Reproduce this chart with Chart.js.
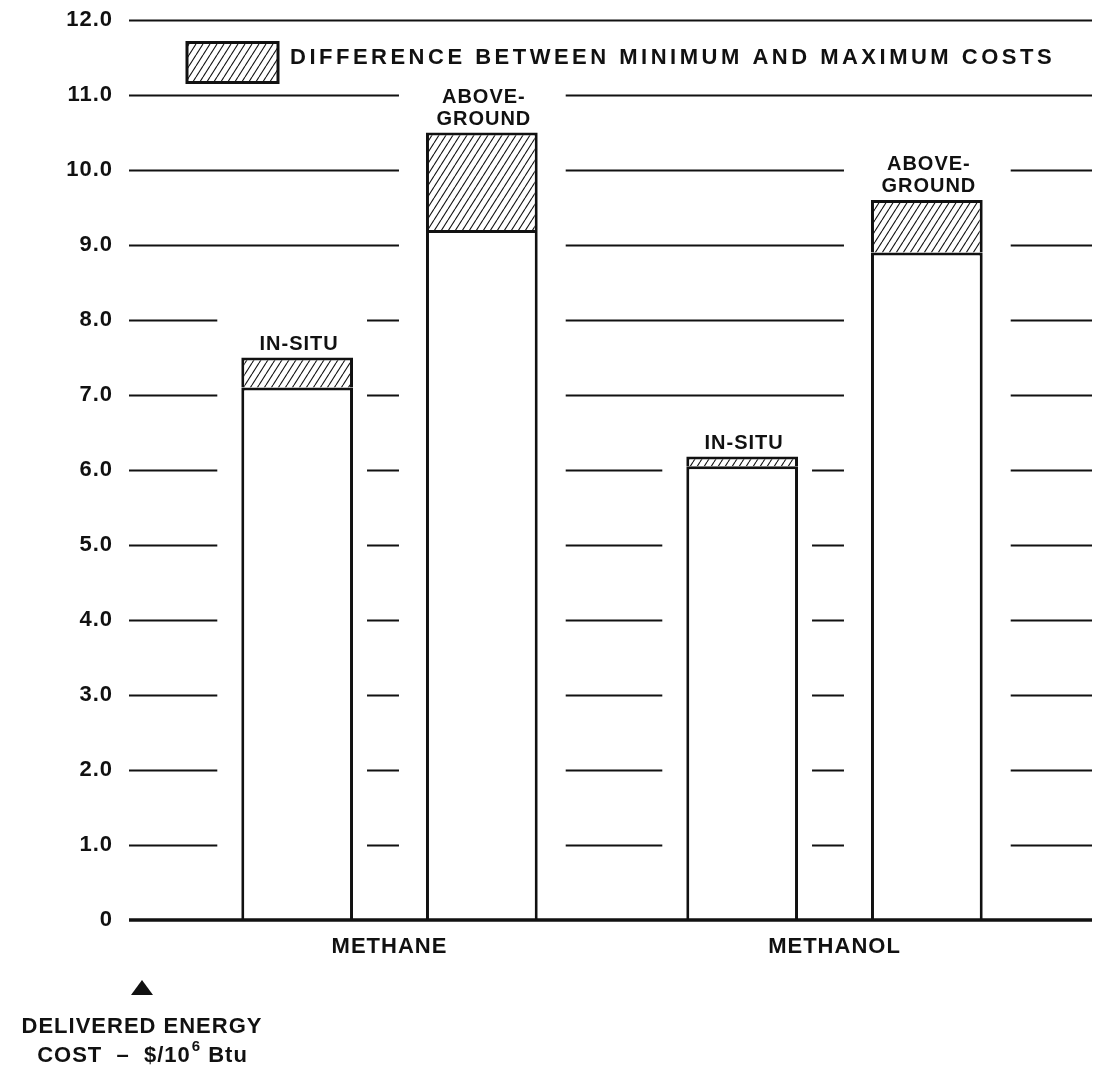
<!DOCTYPE html>
<html>
<head>
<meta charset="utf-8">
<script src="https://cdn.jsdelivr.net/npm/chart.js@4.4.1/dist/chart.umd.min.js"></script>
<style>
  html, body { margin: 0; padding: 0; background: #fff; }
  #wrap { width: 1094px; height: 1085px; }
</style>
</head>
<body>
<div id="wrap"><canvas id="costChart"></canvas></div>
<script>
// Delivered energy cost, $/10^6 Btu
var categories = ['METHANE', 'METHANOL'];
var inSituMin = [7.1, 6.05];
var inSituMax = [7.5, 6.18];
var aboveGroundMin = [9.2, 8.9];
var aboveGroundMax = [10.5, 9.6];
var yTickLabels = ['0', '1.0', '2.0', '3.0', '4.0', '5.0', '6.0', '7.0', '8.0', '9.0', '10.0', '11.0', '12.0'];
var inSituLabel = ['IN-SITU'];
var aboveGroundLabel = ['ABOVE-', 'GROUND'];
var legendText = 'DIFFERENCE BETWEEN MINIMUM AND MAXIMUM COSTS';
var axisNote = ['DELIVERED ENERGY', 'COST  \u2013  $/10', '6', ' Btu'];

var FONT = '"Liberation Sans", Arial, Helvetica, sans-serif';
Chart.defaults.font.family = FONT;
Chart.defaults.font.weight = 'bold';
Chart.defaults.color = '#111';

// diagonal hatch used for the min-max difference
function makeHatch() {
    var c = document.createElement('canvas');
    var w = 7, h = 11;
    c.width = w; c.height = h;
    var g = c.getContext('2d');
    g.fillStyle = '#fff';
    g.fillRect(0, 0, w, h);
    g.strokeStyle = '#111';
    g.lineWidth = 1.1;
    [-w, 0, w].forEach(function (dx) {
        g.beginPath();
        g.moveTo(dx, h);
        g.lineTo(dx + w, 0);
        g.stroke();
    });
    return g.createPattern(c, 'repeat');
}
var hatch = makeHatch();

function diff(maxArr, minArr) {
    return maxArr.map(function (v, i) { return +(v - minArr[i]).toFixed(2); });
}

// grid lines broken around the bars, baseline, labels, legend, axis note
var paperPlugin = {
    id: 'paper',
    beforeDraw: function (chart) {
        chart.ctx.letterSpacing = '1px';
    },
    beforeDatasetsDraw: function (chart) {
        var ctx = chart.ctx, y = chart.scales.y, area = chart.chartArea;
        var left = area.left - 38, right = area.right + 35;
        ctx.save();
        ctx.strokeStyle = '#111';
        ctx.lineWidth = 2;
        for (var v = 1; v <= 12; v++) {
            var py = Math.round(y.getPixelForValue(v)) + 0.5;
            ctx.beginPath();
            ctx.moveTo(left, py);
            ctx.lineTo(right, py);
            ctx.stroke();
        }
        // white gaps around each bar and its label
        ctx.fillStyle = '#fff';
        chart.data.datasets.forEach(function (ds, di) {
            if (!ds.topLabel) return;
            chart.getDatasetMeta(di).data.forEach(function (bar) {
                var top = bar.y - 7 - ds.topLabel.length * 22 - 20;
                ctx.fillRect(bar.x - bar.width / 2 - ds.halo[0], top,
                    bar.width + ds.halo[0] + ds.halo[1], y.bottom - top);
            });
        });
        ctx.restore();
    },
    afterDatasetsDraw: function (chart) {
        var ctx = chart.ctx, y = chart.scales.y, area = chart.chartArea;
        ctx.save();
        // baseline
        ctx.strokeStyle = '#111';
        ctx.lineWidth = 3.5;
        ctx.beginPath();
        ctx.moveTo(area.left - 38, y.getPixelForValue(0));
        ctx.lineTo(area.right + 35, y.getPixelForValue(0));
        ctx.stroke();
        // labels above bars
        ctx.fillStyle = '#111';
        ctx.font = 'bold 20px ' + FONT;
        ctx.textAlign = 'center';
        ctx.textBaseline = 'alphabetic';
        chart.data.datasets.forEach(function (ds, di) {
            if (!ds.topLabel) return;
            chart.getDatasetMeta(di).data.forEach(function (bar) {
                var n = ds.topLabel.length;
                ds.topLabel.forEach(function (line, li) {
                    ctx.fillText(line, bar.x + 2, bar.y - 8 - (n - 1 - li) * 22);
                });
            });
        });
        ctx.restore();
    },
    afterDraw: function (chart) {
        var ctx = chart.ctx, y = chart.scales.y, area = chart.chartArea;
        ctx.save();
        // legend box
        var bx = area.left + 20, by = y.getPixelForValue(11.7), bw = 91, bh = 40;
        ctx.fillStyle = hatch;
        ctx.fillRect(bx, by, bw, bh);
        ctx.strokeStyle = '#111';
        ctx.lineWidth = 3;
        ctx.strokeRect(bx, by, bw, bh);
        ctx.fillStyle = '#111';
        ctx.font = 'bold 22px ' + FONT;
        ctx.letterSpacing = '3.5px';
        ctx.textAlign = 'left';
        ctx.textBaseline = 'middle';
        ctx.fillText(legendText, bx + bw + 12, by + bh / 2 - 5);
        ctx.letterSpacing = '1px';

        // axis note under the y axis
        var cx = area.left - 25, base = y.getPixelForValue(0);
        ctx.beginPath();
        ctx.moveTo(cx - 11, base + 75);
        ctx.lineTo(cx + 11, base + 75);
        ctx.lineTo(cx, base + 60);
        ctx.closePath();
        ctx.fill();
        ctx.textAlign = 'center';
        ctx.textBaseline = 'alphabetic';
        ctx.fillText(axisNote[0], cx, base + 113);
        ctx.font = 'bold 22px ' + FONT;
        var w1 = ctx.measureText(axisNote[1]).width;
        ctx.font = 'bold 15px ' + FONT;
        var w2 = ctx.measureText(axisNote[2]).width;
        ctx.font = 'bold 22px ' + FONT;
        var w3 = ctx.measureText(axisNote[3]).width;
        var sx = cx - (w1 + w2 + w3) / 2;
        ctx.textAlign = 'left';
        ctx.fillText(axisNote[1], sx, base + 142);
        ctx.font = 'bold 15px ' + FONT;
        ctx.fillText(axisNote[2], sx + w1 + 1, base + 131);
        ctx.font = 'bold 22px ' + FONT;
        ctx.fillText(axisNote[3], sx + w1 + w2 + 1, base + 142);
        ctx.restore();
    }
};

var ctx = document.getElementById('costChart').getContext('2d');
var costChart = new Chart(ctx, {
    type: 'bar',
    data: {
        labels: categories,
        datasets: [{
            label: 'IN-SITU minimum',
            data: inSituMin,
            stack: 'inSitu',
            backgroundColor: '#fff',
            borderColor: '#111',
            borderWidth: 3
        }, {
            label: legendText,
            data: diff(inSituMax, inSituMin),
            stack: 'inSitu',
            backgroundColor: hatch,
            borderColor: '#111',
            borderWidth: 3,
            topLabel: inSituLabel,
            halo: [24, 14]
        }, {
            label: 'ABOVE-GROUND minimum',
            data: aboveGroundMin,
            stack: 'aboveGround',
            backgroundColor: '#fff',
            borderColor: '#111',
            borderWidth: 3
        }, {
            label: legendText,
            data: diff(aboveGroundMax, aboveGroundMin),
            stack: 'aboveGround',
            backgroundColor: hatch,
            borderColor: '#111',
            borderWidth: 3,
            topLabel: aboveGroundLabel,
            halo: [27, 28]
        }]
    },
    options: {
        responsive: true,
        maintainAspectRatio: false,
        animation: false,
        categoryPercentage: 0.83,
        barPercentage: 0.605,
        layout: { padding: { left: 0, right: 37, top: 20, bottom: 125 } },
        plugins: {
            legend: { display: false },
            tooltip: { enabled: false }
        },
        scales: {
            x: {
                stacked: true,
                grid: { display: false, drawTicks: true, tickLength: 10 },
                border: { display: false },
                ticks: { padding: 4, font: { size: 22, weight: 'bold' }, color: '#111' },
                afterFit: function (scale) { scale.height = 40; }
            },
            y: {
                stacked: true,
                min: 0,
                max: 12,
                grid: { display: false, drawTicks: true, tickLength: 50 },
                border: { display: false },
                ticks: {
                    stepSize: 1,
                    padding: 4,
                    font: { size: 22, weight: 'bold' },
                    color: '#111',
                    callback: function (value, index) { return yTickLabels[index]; }
                },
                afterFit: function (scale) { scale.width = 167; }
            }
        }
    },
    plugins: [paperPlugin]
});
</script>
</body>
</html>
